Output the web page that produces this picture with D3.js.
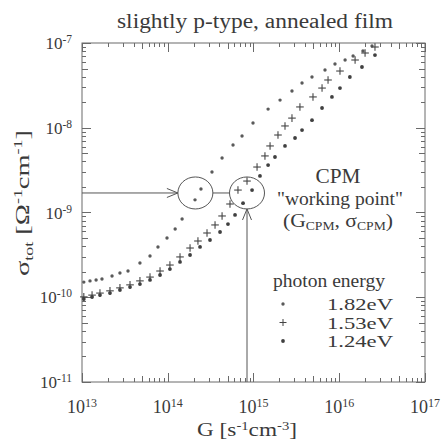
<!DOCTYPE html>
<html><head><meta charset="utf-8">
<script src="https://cdn.jsdelivr.net/npm/d3@7"></script>
<style>
html,body{margin:0;padding:0;background:#fff;}
svg{display:block;font-family:"Liberation Serif","DejaVu Serif",serif;}
</style></head>
<body>
<svg id="c" width="444" height="443"></svg>
<script>
// ---- data ----
const title = "slightly p-type, annealed film";
const xDomain = [1e13, 1e17];
const yDomain = [1e-11, 1e-7];
const xTickExp = [13, 14, 15, 16, 17];
const yTickExp = [-7, -8, -9, -10, -11];
const seriesNames = ["1.82eV", "1.53eV", "1.24eV"];

const G_182 = [1.05e13,1.24e13,1.46e13,1.71e13,2.24e13,2.77e13,3.44e13,4.74e13,6.21e13,7.69e13,9.8e13,1.22e14,1.47e14,2.08e14,2.44e14,3.28e14,4.30e14,5.77e14,7.35e14,9.87e14,1.48e15,2.04e15,2.81e15,3.68e15,4.81e15,6.82e15,8.92e15,1.17e16,1.45e16,1.89e16,2.41e16];
const S_182 = [1.51e-10,1.56e-10,1.60e-10,1.64e-10,1.78e-10,1.93e-10,2.04e-10,2.54e-10,3.07e-10,3.92e-10,5.0e-10,6.38e-10,8.38e-10,1.41e-9,1.89e-9,3.01e-9,4.40e-9,6.25e-9,7.99e-9,1.14e-8,1.66e-8,2.12e-8,2.71e-8,3.37e-8,3.97e-8,4.80e-8,5.65e-8,6.30e-8,7.03e-8,8.05e-8,9.22e-8];

const G_153 = [1.05e13,1.31e13,1.62e13,2.12e13,2.77e13,3.63e13,4.74e13,6.21e13,8.13e13,1.06e14,1.39e14,1.82e14,2.25e14,2.87e14,3.56e14,4.30e14,5.32e14,6.59e14,8.40e14,1.10e15,1.36e15,1.56e15,1.93e15,2.33e15,2.81e15,3.48e15,4.94e15,6.30e15,7.40e15,1.02e16,1.53e16,2.00e16,2.61e16];
const S_153 = [1.01e-10,1.06e-10,1.12e-10,1.19e-10,1.29e-10,1.40e-10,1.56e-10,1.73e-10,2.04e-10,2.40e-10,2.99e-10,3.81e-10,4.61e-10,5.73e-10,7.13e-10,9.10e-10,1.26e-9,1.84e-9,2.35e-9,3.44e-9,4.65e-9,6.10e-9,8.21e-9,1.05e-8,1.30e-8,1.76e-8,2.31e-8,2.94e-8,3.66e-8,4.67e-8,6.30e-8,7.62e-8,8.97e-8];

const G_124 = [1.05e13,1.31e13,1.62e13,2.12e13,2.77e13,3.63e13,4.74e13,6.21e13,8.13e13,1.06e14,1.39e14,1.82e14,2.38e14,3.11e14,4.07e14,5.04e14,6.09e14,7.55e14,9.62e14,1.19e15,1.48e15,1.78e15,2.33e15,3.05e15,3.68e15,4.81e15,6.30e15,8.22e15,1.02e16,1.33e16,1.84e16,2.61e16];
const S_124 = [9.53e-11,1.01e-10,1.06e-10,1.12e-10,1.22e-10,1.32e-10,1.43e-10,1.60e-10,1.83e-10,2.15e-10,2.61e-10,3.15e-10,3.92e-10,4.74e-10,5.89e-10,7.31e-10,9.35e-10,1.29e-9,1.84e-9,2.70e-9,3.63e-9,4.52e-9,6.10e-9,7.57e-9,9.40e-9,1.23e-8,1.71e-8,2.31e-8,2.94e-8,3.97e-8,5.21e-8,7.21e-8];

// CPM working points
const wpSigma = 1.7e-9;
const wpG = [2.1e14, 8.4e14];

// ---- drawing ----
const svg = d3.select("#c");
const L = 82, R = 425, T = 43, B = 382;
const x = d3.scaleLog().domain(xDomain).range([L, R]);
const y = d3.scaleLog().domain(yDomain).range([B, T]);
const ink = "#3a3a3a", axisCol = "#6a6a6a";

function txt(xp, yp, size, anchor, len) {
  const t = svg.append("text").attr("x", xp).attr("y", yp).attr("text-anchor", anchor)
    .attr("font-size", size).attr("fill", ink);
  if (len) t.attr("textLength", len).attr("lengthAdjust", "spacingAndGlyphs");
  return t;
}

// title
txt(255, 28, 20, "middle", 276).text(title);

// frame
svg.append("rect").attr("x", L).attr("y", T).attr("width", R - L).attr("height", B - T)
  .attr("fill", "none").attr("stroke", axisCol).attr("stroke-width", 1);

// ticks
const isMajor = v => Math.abs(Math.log10(v) - Math.round(Math.log10(v))) < 1e-6;
const mant = v => Math.round(v / Math.pow(10, Math.floor(Math.log10(v) + 1e-9)));
const tg = svg.append("g").attr("stroke", axisCol).attr("stroke-width", 1);
x.ticks().forEach(v => {
  const len = isMajor(v) ? 9 : (mant(v) === 5 ? 6 : 4);
  const px = Math.round(x(v)) + 0.5;
  tg.append("line").attr("x1", px).attr("x2", px).attr("y1", B).attr("y2", B - len);
  tg.append("line").attr("x1", px).attr("x2", px).attr("y1", T).attr("y2", T + len);
});
y.ticks().forEach(v => {
  const len = isMajor(v) ? 9 : (mant(v) === 5 ? 6 : 4);
  const py = Math.round(y(v)) + 0.5;
  tg.append("line").attr("x1", L).attr("x2", L + len).attr("y1", py).attr("y2", py);
  tg.append("line").attr("x1", R).attr("x2", R - len).attr("y1", py).attr("y2", py);
});

// tick labels
xTickExp.forEach(e => {
  const t = txt(x(Math.pow(10, e)), 413, 18, "middle");
  t.append("tspan").text("10");
  t.append("tspan").attr("font-size", 12).attr("dy", -6).text(String(e));
});
yTickExp.forEach(e => {
  const t = txt(72, y(Math.pow(10, e)) + 6, 17, "end");
  t.append("tspan").text("10");
  t.append("tspan").attr("font-size", 11.5).attr("dy", -6).text(String(e));
});

// axis titles
const xt = txt(247, 436, 19, "middle", 100);
xt.append("tspan").text("G [s");
xt.append("tspan").attr("font-size", 12).attr("dy", -6).text("-1");
xt.append("tspan").attr("dy", 6).text("cm");
xt.append("tspan").attr("font-size", 12).attr("dy", -6).text("-3");
xt.append("tspan").attr("dy", 6).text("]");

const yt = svg.append("text").attr("transform", "translate(29,203) rotate(-90)")
  .attr("text-anchor", "middle").attr("font-size", 19).attr("fill", ink)
  .attr("textLength", 146).attr("lengthAdjust", "spacingAndGlyphs");
yt.append("tspan").text("σ");
yt.append("tspan").attr("font-size", 12).attr("dy", 4).text("tot");
yt.append("tspan").attr("dy", -4).text(" [Ω");
yt.append("tspan").attr("font-size", 12).attr("dy", -7).text("-1");
yt.append("tspan").attr("dy", 7).text("cm");
yt.append("tspan").attr("font-size", 12).attr("dy", -7).text("-1");
yt.append("tspan").attr("dy", 7).text("]");

// markers
function drawDots(G, S, r, col) {
  svg.append("g").selectAll("circle").data(G.map((g, i) => [g, S[i]])).join("circle")
    .attr("cx", d => x(d[0])).attr("cy", d => y(d[1])).attr("r", r).attr("fill", col);
}
function drawPlus(G, S, s) {
  const g = svg.append("g").attr("stroke", "#444").attr("stroke-width", 1.1);
  G.forEach((gv, i) => {
    const cx = x(gv), cy = y(S[i]);
    g.append("line").attr("x1", cx - s).attr("x2", cx + s).attr("y1", cy).attr("y2", cy);
    g.append("line").attr("x1", cx).attr("x2", cx).attr("y1", cy - s).attr("y2", cy + s);
  });
}
drawDots(G_182, S_182, 1.7, "#5a5a5a");
drawPlus(G_153, S_153, 3.8);
drawDots(G_124, S_124, 1.9, "#404040");

// working point annotations
const ag = svg.append("g").attr("stroke", "#555").attr("stroke-width", 1).attr("fill", "none");
const wy = y(wpSigma), rx = 17.5, ry = 16;
wpG.forEach(g => ag.append("ellipse").attr("cx", x(g)).attr("cy", wy).attr("rx", rx).attr("ry", ry));
ag.append("line").attr("x1", x(wpG[0]) + rx).attr("x2", x(wpG[1]) - rx).attr("y1", wy).attr("y2", wy);
// horizontal arrow
const hx = x(wpG[0]) - rx;
ag.append("line").attr("x1", L).attr("x2", hx).attr("y1", wy).attr("y2", wy);
ag.append("path").attr("d", `M${hx - 11},${wy - 4.5}L${hx},${wy}L${hx - 11},${wy + 4.5}`);
// vertical arrow
const vx = x(wpG[1]), vy = wy + ry;
ag.append("line").attr("x1", vx).attr("x2", vx).attr("y1", B).attr("y2", vy);
ag.append("path").attr("d", `M${vx - 4.5},${vy + 11}L${vx},${vy}L${vx + 4.5},${vy + 11}`);

// CPM text
txt(338, 183, 21, "middle", 45).text("CPM");
txt(340, 205, 19, "middle", 126).text("\"working point\"");
const gc = txt(338, 227, 19, "middle", 110);
gc.append("tspan").text("(G");
gc.append("tspan").attr("font-size", 12).attr("dy", 3).text("CPM");
gc.append("tspan").attr("dy", -3).text(", σ");
gc.append("tspan").attr("font-size", 12).attr("dy", 3).text("CPM");
gc.append("tspan").attr("dy", -3).text(")");

// legend
txt(329, 287, 18, "middle", 112).text("photon energy");
const lrows = [310, 328.5, 347];
seriesNames.forEach((n, i) => {
  txt(393, lrows[i], 16.5, "end", 66).text(n);
  const cy = lrows[i] - 6, cx = 283;
  if (i === 1) {
    svg.append("line").attr("x1", cx - 3.5).attr("x2", cx + 3.5).attr("y1", cy).attr("y2", cy).attr("stroke", "#444");
    svg.append("line").attr("x1", cx).attr("x2", cx).attr("y1", cy - 3.5).attr("y2", cy + 3.5).attr("stroke", "#444");
  } else {
    svg.append("circle").attr("cx", cx).attr("cy", cy).attr("r", i === 0 ? 1.7 : 1.9).attr("fill", i === 0 ? "#5a5a5a" : "#404040");
  }
});
</script>
</body></html>
